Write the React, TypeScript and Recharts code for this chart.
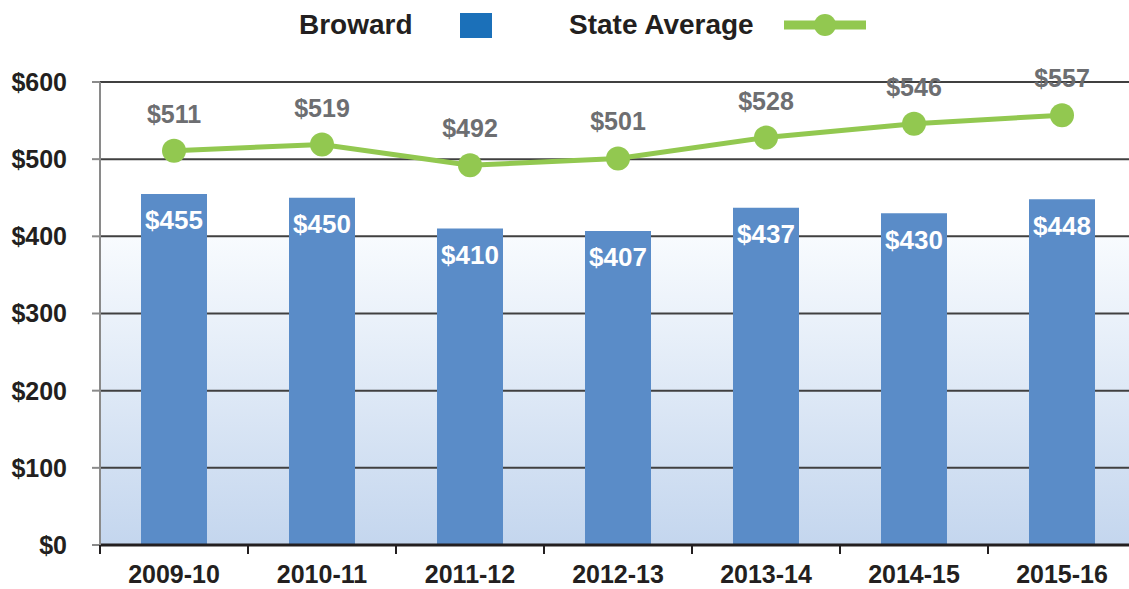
import { ComposedChart, Bar, Line, XAxis, YAxis, CartesianGrid, LabelList } from 'recharts';

const years = ['2009-10', '2010-11', '2011-12', '2012-13', '2013-14', '2014-15', '2015-16'];
const broward = [455, 450, 410, 407, 437, 430, 448];
const stateAverage = [511, 519, 492, 501, 528, 546, 557];
const yTicks = [0, 100, 200, 300, 400, 500, 600];

const data = years.map((year, i) => ({
  year,
  broward: broward[i],
  state: stateAverage[i],
}));

const FONT = '"Liberation Sans", Arial, Helvetica, sans-serif';
const BAR_BLUE = '#5a8cc8';
const GREEN = '#92c850';
const INK = '#231f20';

const CHART_W = 1140;
const CHART_H = 589;
const PLOT_LEFT = 100;
const PLOT_RIGHT = 1136;
const BAND = (PLOT_RIGHT - PLOT_LEFT) / years.length;

const money = (v: number) => `$${v}`;

function YearTick({ x, y, payload }: any) {
  return (
    <g>
      <line x1={x - BAND / 2} x2={x - BAND / 2} y1={y} y2={y + 9} stroke={INK} strokeWidth={2} />
      <line x1={x + BAND / 2} x2={x + BAND / 2} y1={y} y2={y + 9} stroke={INK} strokeWidth={2} />
      <text x={x} y={y + 38} textAnchor="middle" fontFamily={FONT} fontWeight="bold" fontSize={25} fill={INK}>
        {payload.value}
      </text>
    </g>
  );
}

function LegendBar() {
  return (
    <div
      style={{
        position: 'absolute',
        left: 0,
        top: 0,
        width: 1129,
        height: 50,
        fontFamily: FONT,
        fontWeight: 'bold',
        fontSize: 28,
        color: INK,
      }}
    >
      <span style={{ position: 'absolute', left: 299, top: 9 }}>Broward</span>
      <span style={{ position: 'absolute', left: 460, top: 13, width: 32, height: 25, background: '#1b70b9' }} />
      <span style={{ position: 'absolute', left: 569, top: 9 }}>State Average</span>
      <svg style={{ position: 'absolute', left: 784, top: 13 }} width={82} height={24}>
        <line x1={0} x2={82} y1={12} y2={12} stroke={GREEN} strokeWidth={9} />
        <circle cx={41} cy={12} r={11} fill={GREEN} />
      </svg>
    </div>
  );
}

export default function App() {
  return (
    <div style={{ position: 'absolute', left: 0, top: 0, width: 1129, height: 589, overflow: 'hidden', background: '#fff' }}>
      <LegendBar />
      <ComposedChart
        width={CHART_W}
        height={CHART_H}
        data={data}
        margin={{ top: 82, right: CHART_W - PLOT_RIGHT, bottom: 0, left: 0 }}
      >
        <defs>
          <linearGradient id="plotBg" x1="0" y1="0" x2="0" y2="1">
            <stop offset="0" stopColor="#ffffff" />
            <stop offset="0.333" stopColor="#ffffff" />
            <stop offset="0.336" stopColor="#f8fbfe" />
            <stop offset="1" stopColor="#c4d6ee" />
          </linearGradient>
        </defs>
        <CartesianGrid vertical={false} stroke="#404040" strokeWidth={2} fill="url(#plotBg)" />
        <XAxis
          dataKey="year"
          height={44}
          tickSize={0}
          tickMargin={0}
          tickLine={false}
          axisLine={{ stroke: INK, strokeWidth: 3 }}
          tick={<YearTick />}
          interval={0}
        />
        <YAxis
          width={PLOT_LEFT}
          domain={[0, 600]}
          ticks={yTicks}
          tickFormatter={money}
          tickSize={8}
          tickMargin={25}
          axisLine={{ stroke: '#8a8a8a', strokeWidth: 2 }}
          tickLine={{ stroke: '#8a8a8a', strokeWidth: 2 }}
          tick={{ fontFamily: FONT, fontWeight: 'bold', fontSize: 25, fill: INK }}
        />
        <Bar dataKey="broward" fill={BAR_BLUE} barSize={66} isAnimationActive={false}>
          <LabelList
            dataKey="broward"
            position="insideTop"
            offset={17}
            formatter={money}
            fill="#ffffff"
            fontFamily={FONT}
            fontWeight="bold"
            fontSize={26}
          />
        </Bar>
        <Line
          dataKey="state"
          stroke={GREEN}
          strokeWidth={5}
          dot={{ r: 12, fill: GREEN, stroke: 'none' }}
          activeDot={false}
          isAnimationActive={false}
        >
          <LabelList
            dataKey="state"
            position="top"
            offset={28}
            formatter={money}
            fill="#6d6e71"
            fontFamily={FONT}
            fontWeight="bold"
            fontSize={25}
          />
        </Line>
      </ComposedChart>
    </div>
  );
}
